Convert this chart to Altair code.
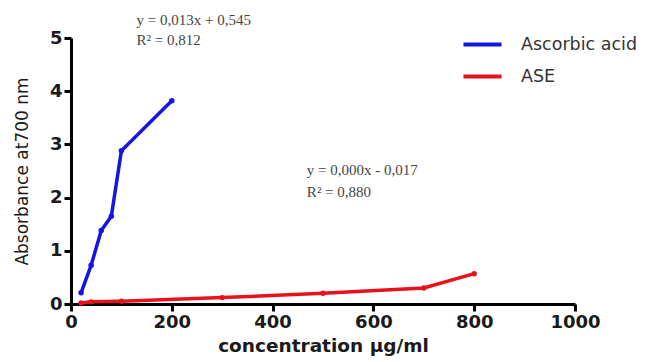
import altair as alt
import pandas as pd

# Data
asc_x = [20, 40, 60, 80, 100, 200]
asc_y = [0.21, 0.73, 1.38, 1.65, 2.88, 3.82]
ase_x = [20, 40, 100, 300, 500, 700, 800]
ase_y = [0.02, 0.04, 0.05, 0.12, 0.20, 0.30, 0.57]
series_names = ["Ascorbic acid", "ASE"]
series_colors = ["#1414e6", "#e8121c"]

ann_x = [130, 130, 468, 468]
ann_y = [5.33, 4.97, 2.52, 2.11]
ann_text = ["y = 0,013x + 0,545", "R² = 0,812", "y = 0,000x - 0,017", "R² = 0,880"]

df = pd.DataFrame({
    "x": asc_x + ase_x,
    "y": asc_y + ase_y,
    "series": [series_names[0]] * len(asc_x) + [series_names[1]] * len(ase_x),
})
ann = pd.DataFrame({"x": ann_x, "y": ann_y, "t": ann_text})

xscale = alt.Scale(domain=[0, 1000], nice=False)
yscale = alt.Scale(domain=[0, 5], nice=False)

common_axis = dict(grid=False, domainColor="black", domainWidth=3, tickColor="black",
                   tickWidth=3, tickSize=7, labelFont="DejaVu Sans",
                   labelFontWeight="bold", labelFontSize=18, labelColor="#1a1a1a",
                   labelPadding=2, labelFlush=False, format="d",
                   titleFont="DejaVu Sans", titleColor="#1a1a1a")

lines = alt.Chart(df).mark_line(
    strokeWidth=3.5, point=alt.OverlayMarkDef(size=30, filled=True)
).encode(
    x=alt.X("x:Q", scale=xscale, title="concentration µg/ml",
            axis=alt.Axis(values=[0, 200, 400, 600, 800, 1000],
                          titleFontWeight="bold", titleFontSize=18.5,
                          titlePadding=5, **common_axis)),
    y=alt.Y("y:Q", scale=yscale, title="Absorbance at700 nm",
            axis=alt.Axis(values=[0, 1, 2, 3, 4, 5],
                          titleFontWeight="normal", titleFontSize=17,
                          titlePadding=18, **common_axis)),
    color=alt.Color("series:N",
                    scale=alt.Scale(domain=series_names, range=series_colors),
                    legend=alt.Legend(title=None, orient="none", legendX=390, legendY=-15,
                                      symbolType="stroke", symbolSize=1450,
                                      symbolStrokeWidth=4, labelFont="DejaVu Sans",
                                      labelFontSize=17.5, labelColor="#333",
                                      labelOffset=17, rowPadding=2)),
    order=alt.Order("x:Q"),
)

texts = alt.Chart(ann).mark_text(
    align="left", baseline="middle", font="Liberation Serif", fontSize=15,
    color="#444"
).encode(
    x=alt.X("x:Q", scale=xscale),
    y=alt.Y("y:Q", scale=yscale),
    text="t:N",
)

chart = alt.layer(lines, texts).properties(
    width=504, height=266,
    autosize=alt.AutoSizeParams(type="none"),
    padding={"left": 63, "top": 30, "right": 70, "bottom": 60},
).configure_view(stroke=None)

chart.save("out.html", embed_options={"renderer": "svg", "actions": False})
